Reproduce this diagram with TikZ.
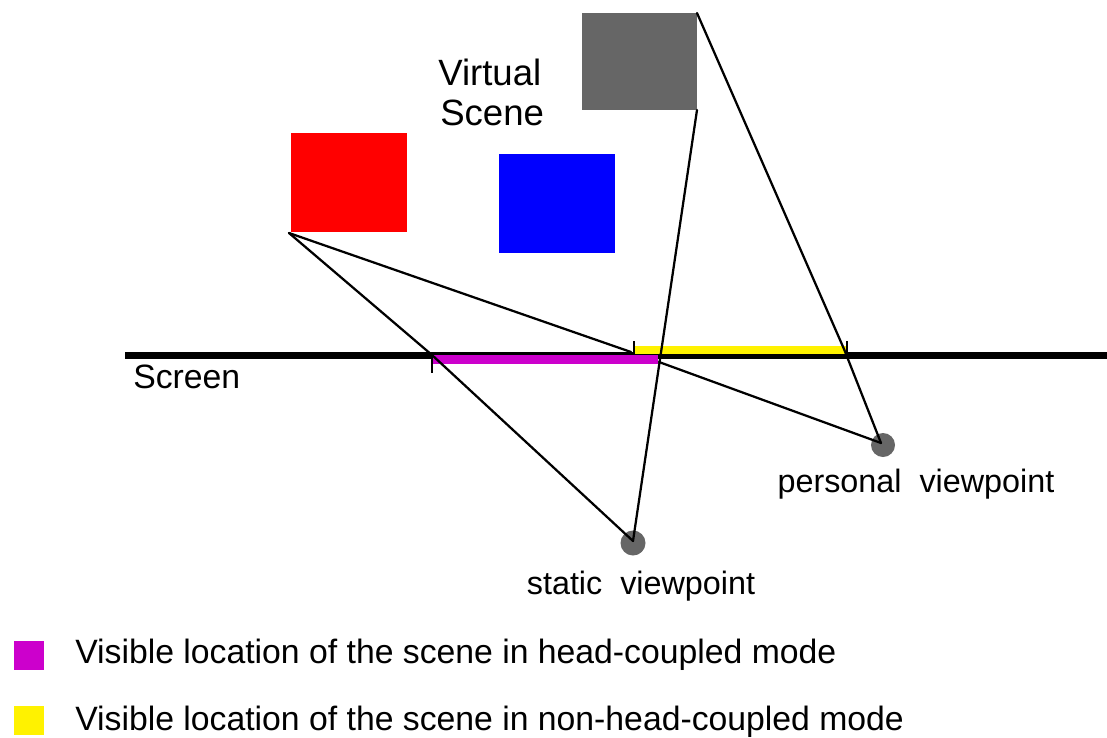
\documentclass[tikz,border=0pt]{standalone}
\usepackage{fontspec}
\setmainfont{Liberation Sans}
\usetikzlibrary{calc}
\definecolor{scenegray}{HTML}{666666}
\definecolor{headmag}{HTML}{CC00CC}

\begin{document}
\begin{tikzpicture}[x=0.025cm, y=-0.025cm,
    ray/.style={line width=1.6pt, line cap=round},
    tick/.style={line width=1.1pt},
    label/.style={inner sep=0pt, font=\fontsize{23}{26}\selectfont},
    keytext/.style={inner sep=0pt, anchor=base west, font=\fontsize{24}{28}\selectfont}]
        \useasboundingbox (0,0) rectangle (1107,738);

        % Objects of the virtual scene
        \fill[red] (291,133) rectangle (407,232);
        \fill[blue] (499,154) rectangle (615,253);
        \fill[scenegray] (582,13) rectangle (697,110);
        \node (virtual) [label, anchor=base west, font=\fontsize{26}{28}\selectfont] at (438,85) {Virtual};
        \node (scene) [label, anchor=base west, font=\fontsize{26}{28}\selectfont] at (440,125) {Scene};

        % Corners the rays start from
        \coordinate (R1) at (289,233);
        \coordinate (G1) at (697,110);
        \coordinate (G2) at (697,13);

        % The screen
        \coordinate (S1) at (125,355.5);
        \coordinate (S2) at (1107,355.5);
        \draw[line width=4.5pt] (S1) -- (S2);
        \node (screen) [label, anchor=base west, font=\fontsize{24}{26}\selectfont] at (133,388) {Screen};

        % Visible parts on the screen
        \fill[yellow] (634,346) rectangle (847,354);
        \fill[headmag] (432,355) rectangle (658,363.5);
        \draw[tick] (432,355) -- (432,373);
        \draw[tick] (634,341) -- (634,354);
        \draw[tick] (847,341) -- (847,356);

        % Viewpoints
        \fill[scenegray] (633,543) circle (12.5);
        \fill[scenegray] (883,445) circle (12);
        \coordinate (stat) at (633,541);
        \coordinate (pers) at (881,443);
        \node (statlbl) [label, anchor=base] at (641,594) {static\ \ viewpoint};
        \node (perslbl) [label, anchor=base] at (916,492) {personal\ \ viewpoint};

        % Points where the rays meet the screen
        \coordinate (P1) at (432,355);
        \coordinate (P2) at (631,352);
        \coordinate (P3) at (659,362);
        \coordinate (P4) at (844,349);

        % Rays from the scene to the viewpoints
        \draw[ray] (R1) -- (P1) -- (stat);
        \draw[ray] (R1) -- (P2);
        \draw[ray] (P3) -- (pers);
        \draw[ray] (G1) -- (stat);
        \draw[ray] (G2) -- (P4) -- (pers);

        % Key
        \fill[headmag] (14,641) rectangle (44,670);
        \fill[yellow] (14,706) rectangle (44,735);
        \node (keyhead) [keytext] at (75,663) {Visible\ location\ of\ the\ scene\ in\ head-coupled\ mode};
        \node (keynon) [keytext] at (75,730) {Visible\ location\ of\ the\ scene\ in\ non-head-coupled\ mode};
    \end{tikzpicture}
\end{document}
